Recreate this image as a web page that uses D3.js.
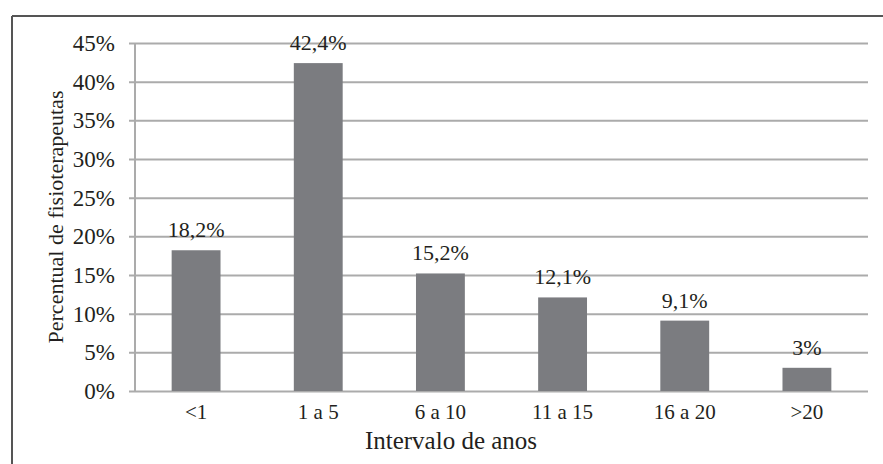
<!DOCTYPE html>
<html>
<head>
<meta charset="utf-8">
<script src="https://cdn.jsdelivr.net/npm/d3@7"></script>
<style>
  html, body { margin: 0; padding: 0; background: #fff; }
  svg { display: block; }
</style>
</head>
<body>
<svg id="chart" width="883" height="464"></svg>
<script>
const categories = ["<1", "1 a 5", "6 a 10", "11 a 15", "16 a 20", ">20"];
const values = [18.2, 42.4, 15.2, 12.1, 9.1, 3];
const valueLabels = ["18,2%", "42,4%", "15,2%", "12,1%", "9,1%", "3%"];
const yTicks = [0, 5, 10, 15, 20, 25, 30, 35, 40, 45];
const xTitle = "Intervalo de anos";
const yTitle = "Percentual de fisioterapeutas";

const FONT = "'Liberation Serif', 'Times New Roman', serif";
const TXT = "#231f20";

const svg = d3.select("#chart");
const W = 883, H = 464;
const m = { left: 135, right: 15, top: 43, bottom: 73 };

// frame (top and left lines only, cropped)
svg.append("line").attr("x1", 12).attr("x2", W).attr("y1", 16).attr("y2", 16)
  .attr("stroke", "#555").attr("stroke-width", 2);
svg.append("line").attr("x1", 12).attr("x2", 12).attr("y1", 16).attr("y2", H)
  .attr("stroke", "#555").attr("stroke-width", 2);

const x = d3.scaleBand().domain(categories).range([m.left, W - m.right]).paddingInner(0.6).paddingOuter(0.3);
const y = d3.scaleLinear().domain([0, 45]).range([H - m.bottom, m.top]);

// gridlines with left tick stubs
const yAxis = d3.axisLeft(y).tickValues(yTicks).tickFormat(d => d + "%")
  .tickSize(6).tickPadding(14);
const gy = svg.append("g").attr("transform", `translate(${m.left},0)`).call(yAxis);
gy.select(".domain").remove();
gy.selectAll(".tick line").attr("stroke", "#ababab").attr("stroke-width", 2)
  .attr("x1", -6).attr("x2", W - m.right - m.left);
gy.selectAll(".tick text").attr("fill", TXT).attr("x", -20)
  .style("font-family", FONT).style("font-size", "23px");

// y axis line
svg.append("line").attr("x1", m.left).attr("x2", m.left)
  .attr("y1", y(45)).attr("y2", y(0)).attr("stroke", "#ababab").attr("stroke-width", 2);

// bars
svg.selectAll("rect.bar").data(values).join("rect").attr("class", "bar")
  .attr("x", (d, i) => x(categories[i]))
  .attr("width", x.bandwidth())
  .attr("y", d => y(d))
  .attr("height", d => y(0) - y(d))
  .attr("fill", "#7b7c80");

// value labels
svg.selectAll("text.vl").data(values).join("text").attr("class", "vl")
  .attr("x", (d, i) => x(categories[i]) + x.bandwidth() / 2)
  .attr("y", d => y(d) - 13)
  .attr("text-anchor", "middle")
  .attr("fill", TXT)
  .style("font-family", FONT).style("font-size", "22px")
  .text((d, i) => valueLabels[i]);

// x axis labels
const xAxis = d3.axisBottom(x).tickSize(0).tickPadding(13);
const gx = svg.append("g").attr("transform", `translate(0,${y(0)})`).call(xAxis);
gx.select(".domain").remove();
gx.selectAll(".tick text").attr("fill", TXT)
  .style("font-family", FONT).style("font-size", "21px");

// titles
svg.append("text").attr("x", 451).attr("y", 449)
  .attr("text-anchor", "middle").attr("fill", TXT)
  .style("font-family", FONT).style("font-size", "25px").text(xTitle);
svg.append("text").attr("transform", `translate(63,${(y(0) + y(45)) / 2}) rotate(-90)`)
  .attr("text-anchor", "middle").attr("fill", TXT)
  .style("font-family", FONT).style("font-size", "22px").text(yTitle);
</script>
</body>
</html>
